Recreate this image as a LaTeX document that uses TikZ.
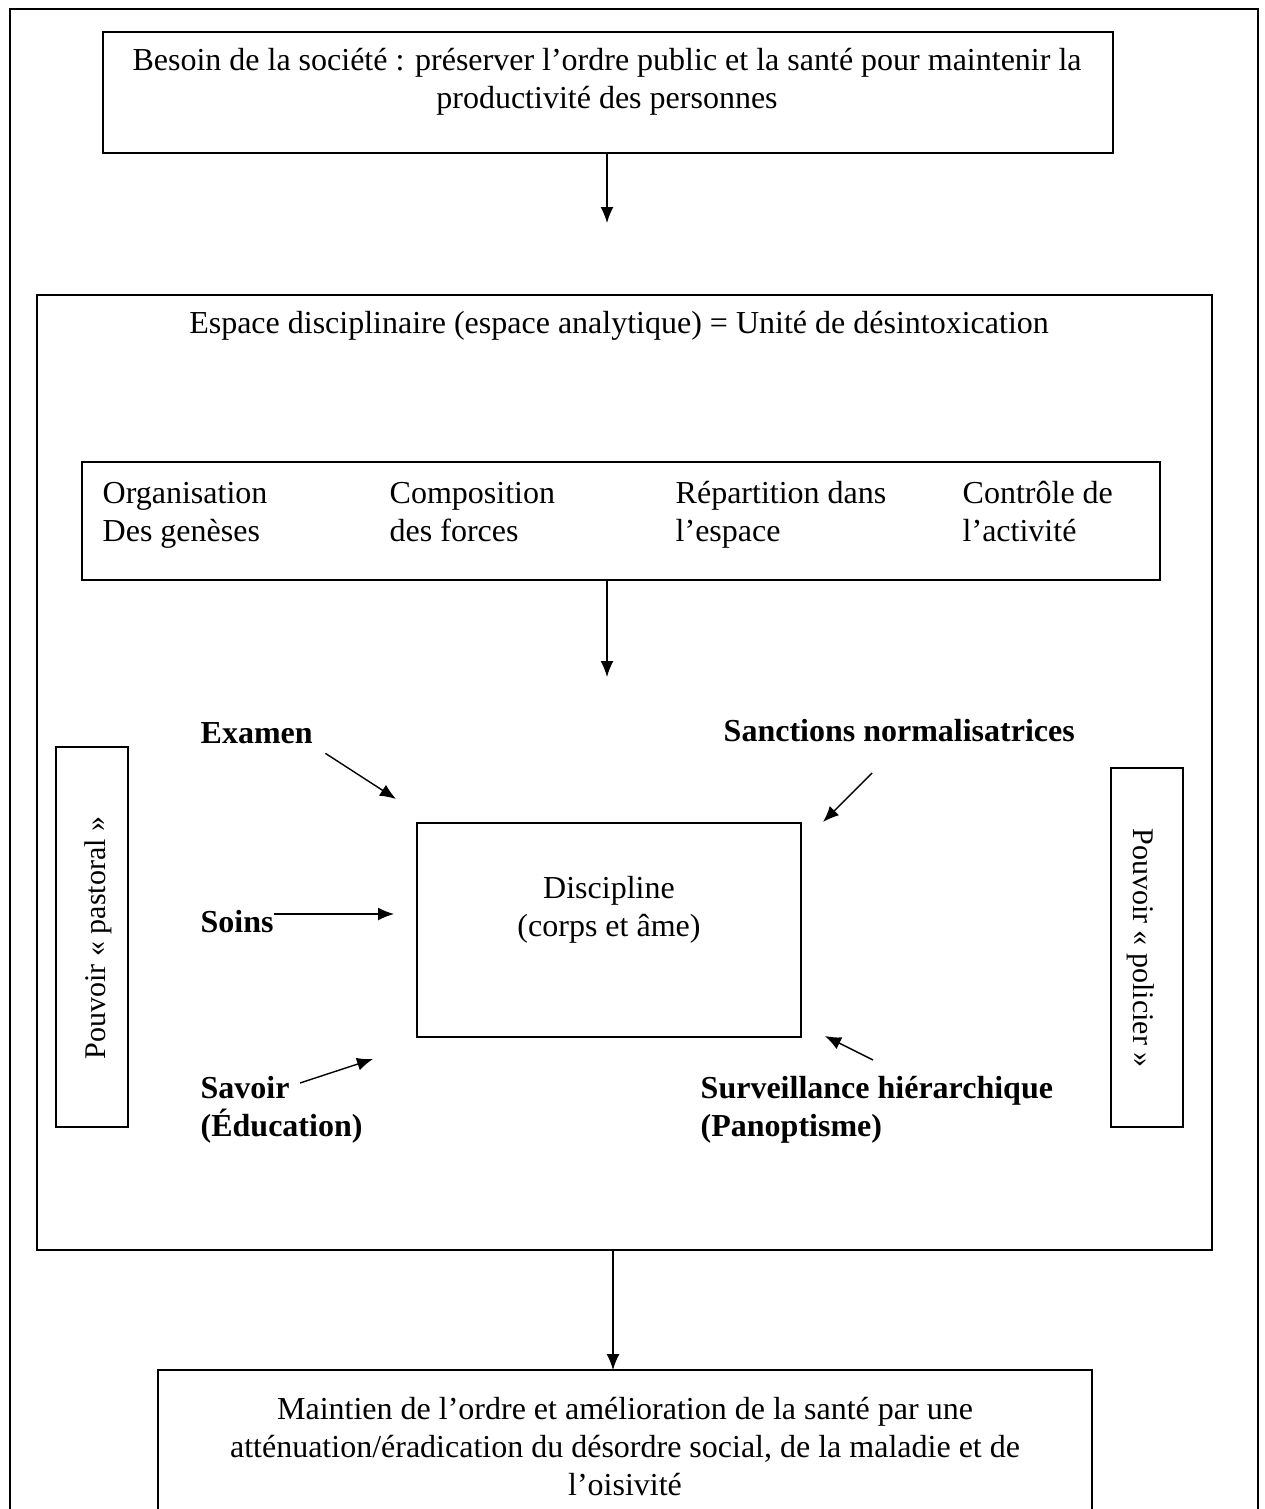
\documentclass[tikz,border=0pt]{standalone}
\usepackage{fontspec}
\setmainfont{Liberation Serif}
\usepackage{tikz}
\usetikzlibrary{arrows.meta}
\tikzset{l/.style={font=\fontsize{32}{38}\selectfont, inner sep=0pt}}
\tikzset{lb/.style={font=\fontsize{32}{38}\selectfont\bfseries, inner sep=0pt}}
\tikzset{lr/.style={font=\fontsize{30}{36}\selectfont, inner sep=0pt}}
\tikzset{box/.style={draw, line width=1.5pt, inner sep=0pt}}

\begin{document}
\begin{tikzpicture}[x=1pt, y=-1pt, >={Latex[length=16pt,width=13pt]}, line width=1.4pt]
  \useasboundingbox (0,0) rectangle (1265,1509);
  % outer frame, open at the bottom
  \draw[line width=1.5pt] (10,1530) -- (10,9) -- (1258,9) -- (1258,1530);

  % need of society
  \node[box, minimum width=1010, minimum height=121] (besoin) at (608,92.5) {};
  \node[l, align=center] (besointxt) at (607,82)
    {Besoin de la société : préserver l’ordre public et la santé pour maintenir la\\productivité des personnes};
  \coordinate (a1) at (607,223);
  \draw[->] (besoin.south -| a1) -- (a1);

  % disciplinary space
  \node[box, minimum width=1175, minimum height=955] (espace) at (624.5,772.5) {};
  \node[l] (espacetxt) at (619,326)
    {Espace disciplinaire (espace analytique) = Unité de désintoxication};

  \node[box, minimum width=1078, minimum height=118] (forms) at (621,521) {};
  \node[l, align=left, anchor=base west] (orga) at (102,541) {Organisation\\Des genèses};
  \node[l, align=left, anchor=base west] (compo) at (389,541) {Composition\\des forces};
  \node[l, align=left, anchor=base west] (repart) at (675,541) {Répartition dans\\l’espace};
  \node[l, align=left, anchor=base west] (controle) at (962,541) {Contrôle de\\l’activité};
  \coordinate (a2) at (607,677);
  \draw[->] (forms.south -| a2) -- (a2);

  % discipline
  \node[box, minimum width=384, minimum height=214] (disc) at (609,930) {};
  \node[l, align=center] (disctxt) at (609,910) {Discipline\\(corps et âme)};

  \node[lb, anchor=west] (examen) at (200,733) {Examen};
  \node[lb, anchor=west] (soins) at (200,922) {Soins};
  \node[lb, align=left, anchor=west] (savoir) at (200,1110) {Savoir\\(Éducation)};
  \node[lb, anchor=west] (sanctions) at (723,731) {Sanctions normalisatrices};
  \node[lb, align=left, anchor=west] (surv) at (700,1110) {Surveillance hiérarchique\\(Panoptisme)};

  \coordinate (examentip) at (396,799);
  \coordinate (soinstip) at (394,914);
  \coordinate (savoirtail) at (300,1083);
  \coordinate (savoirtip) at (373,1059);
  \coordinate (sanctail) at (872,773);
  \coordinate (sanctip) at (823,822);
  \coordinate (survtail) at (873,1060);
  \coordinate (survtip) at (825,1036);
  \draw[->] ([shift={(12pt,-9pt)}]examen.south east) -- (examentip);
  \draw[->] (soins.east |- soinstip) -- (soinstip);
  \draw[->] (savoirtail) -- (savoirtip);
  \draw[->] (sanctail) -- (sanctip);
  \draw[->] (survtail) -- (survtip);

  % powers
  \node[box, minimum width=72, minimum height=380] (pastoral) at (92,937) {};
  \node[lr, rotate=90] (pastoraltxt) at (98,938) {Pouvoir «~pastoral~»};
  \node[box, minimum width=72, minimum height=359] (policier) at (1147,947.5) {};
  \node[lr, rotate=-90] (policiertxt) at (1141,948) {Pouvoir «~policier~»};

  % outcome
  \coordinate (a3) at (613,1300);
  \draw[->] (espace.south -| a3) -- (a3 |- 0,1370);
  \node[box, minimum width=934, minimum height=160] (fin) at (625,1450) {};
  \node[l, align=center] (fintxt) at (625,1447)
    {Maintien de l’ordre et amélioration de la santé par une\\atténuation/éradication du désordre social, de la maladie et de\\l’oisivité};
\end{tikzpicture}
\end{document}
